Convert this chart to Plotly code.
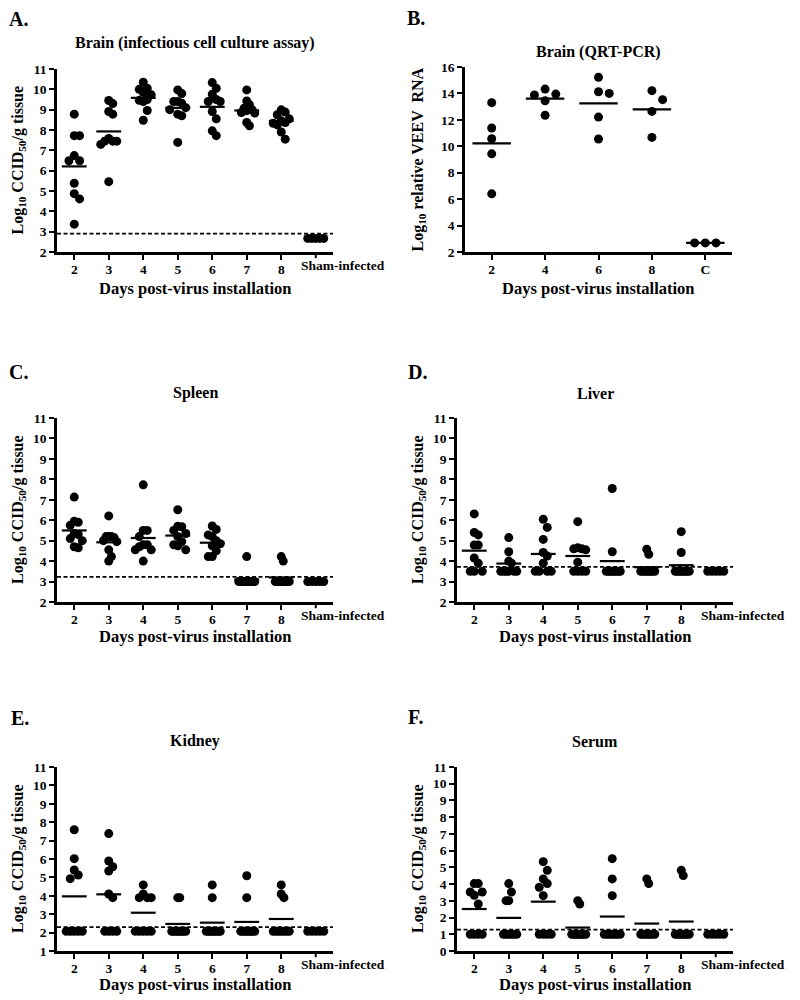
import plotly.graph_objects as go

# ---------------- data ----------------
day_labels = ["2", "3", "4", "5", "6", "7", "8", "Sham-infected"]
pcr_labels = ["2", "4", "6", "8", "C"]

brain_cc = [
    [8.78, 7.72, 7.72, 6.74, 6.49, 6.49, 5.38, 4.87, 4.61, 3.37],
    [9.45, 9.30, 8.91, 8.78, 7.58, 7.45, 7.45, 7.45, 7.29, 5.46],
    [10.35, 10.05, 10.0, 9.85, 9.73, 9.5, 9.46, 9.40, 8.96, 8.48],
    [9.97, 9.79, 9.40, 9.40, 9.32, 9.10, 9.0, 8.78, 8.70, 7.39],
    [10.33, 10.05, 9.76, 9.5, 9.4, 9.4, 8.91, 8.55, 7.96, 7.72],
    [9.97, 9.43, 9.25, 9.07, 9.0, 8.95, 8.86, 8.83, 8.37, 8.21],
    [8.99, 8.88, 8.75, 8.55, 8.45, 8.37, 8.33, 8.25, 7.90, 7.55],
    [2.67, 2.67, 2.67, 2.67, 2.67],
]
brain_cc_means = [6.21, 7.93, 9.58, 9.09, 9.14, 8.96, 8.45, 2.67]
brain_cc_limit = 2.9

brain_pcr = [
    [13.30, 11.38, 10.57, 9.43, 6.40],
    [14.33, 13.95, 13.88, 13.45, 12.34],
    [15.22, 14.13, 14.0, 12.21, 10.55],
    [14.21, 13.53, 12.64, 10.67],
    [2.69, 2.69, 2.69],
]
brain_pcr_means = [10.22, 13.60, 13.25, 12.79, 2.69]

spleen = [
    [7.13, 5.95, 5.9, 5.75, 5.35, 5.3, 5.1, 5.0, 4.7, 4.65],
    [6.21, 5.2, 5.2, 5.2, 5.15, 5.0, 4.95, 4.55, 4.22, 4.0],
    [7.73, 5.5, 5.5, 5.2, 4.8, 4.8, 4.7, 4.55, 4.55, 4.0],
    [6.51, 5.7, 5.68, 5.5, 5.35, 5.2, 4.95, 4.8, 4.75, 4.55],
    [5.72, 5.55, 5.28, 5.2, 5.0, 4.85, 4.75, 4.5, 4.22, 4.22],
    [4.22, 3.0, 3.0, 3.0, 3.0, 3.0, 3.0, 3.0, 3.0, 3.0],
    [4.22, 4.0, 3.0, 3.0, 3.0, 3.0, 3.0, 3.0, 3.0, 3.0],
    [3.0, 3.0, 3.0, 3.0, 3.0],
]
spleen_means = [5.50, 4.92, 5.13, 5.25, 4.90, 3.10, 3.20, 3.0]
spleen_limit = 3.23

liver = [
    [6.31, 5.4, 5.28, 4.79, 4.79, 4.15, 3.9, 3.5, 3.5, 3.5],
    [5.15, 4.46, 4.0, 3.9, 3.5, 3.5, 3.5, 3.5, 3.5, 3.5],
    [6.05, 5.65, 5.06, 4.42, 4.25, 3.9, 3.5, 3.5, 3.5, 3.5],
    [5.93, 4.65, 4.6, 4.6, 4.55, 3.95, 3.5, 3.5, 3.5, 3.5],
    [7.55, 4.46, 3.5, 3.5, 3.5, 3.5, 3.5, 3.5, 3.5, 3.5],
    [4.58, 4.33, 3.5, 3.5, 3.5, 3.5, 3.5, 3.5, 3.5, 3.5],
    [5.44, 4.42, 3.5, 3.5, 3.5, 3.5, 3.5, 3.5, 3.5, 3.5],
    [3.5, 3.5, 3.5, 3.5, 3.5],
]
liver_means = [4.51, 3.88, 4.35, 4.25, 4.0, 3.70, 3.80, 3.5]
liver_limit = 3.72

kidney = [
    [7.59, 6.02, 5.40, 5.13, 4.93, 2.07, 2.07, 2.07, 2.07, 2.07],
    [7.38, 5.89, 5.58, 5.35, 4.1, 3.9, 2.07, 2.07, 2.07, 2.07],
    [4.59, 4.1, 3.9, 3.9, 3.9, 2.07, 2.07, 2.07, 2.07, 2.07],
    [3.9, 3.9, 2.07, 2.07, 2.07, 2.07, 2.07, 2.07, 2.07, 2.07],
    [4.59, 3.9, 2.07, 2.07, 2.07, 2.07, 2.07, 2.07, 2.07, 2.07],
    [5.09, 3.9, 2.07, 2.07, 2.07, 2.07, 2.07, 2.07, 2.07, 2.07],
    [4.59, 4.1, 3.9, 2.07, 2.07, 2.07, 2.07, 2.07, 2.07, 2.07],
    [2.07, 2.07, 2.07, 2.07, 2.07],
]
kidney_means = [3.97, 4.08, 3.08, 2.47, 2.54, 2.58, 2.74, 2.07]
kidney_limit = 2.30

serum = [
    [4.03, 4.03, 3.53, 3.53, 3.33, 2.81, 1.0, 1.0, 1.0, 1.0],
    [4.03, 3.53, 3.01, 3.01, 1.0, 1.0, 1.0, 1.0, 1.0, 1.0],
    [5.34, 4.82, 4.31, 4.03, 3.81, 3.31, 1.0, 1.0, 1.0, 1.0],
    [3.01, 2.81, 1.0, 1.0, 1.0, 1.0, 1.0, 1.0, 1.0, 1.0],
    [5.52, 4.31, 3.31, 1.0, 1.0, 1.0, 1.0, 1.0, 1.0, 1.0],
    [4.31, 4.03, 1.0, 1.0, 1.0, 1.0, 1.0, 1.0, 1.0, 1.0],
    [4.82, 4.51, 1.0, 1.0, 1.0, 1.0, 1.0, 1.0, 1.0, 1.0],
    [1.0, 1.0, 1.0, 1.0, 1.0],
]
serum_means = [2.51, 1.98, 2.95, 1.40, 2.06, 1.64, 1.76, 1.0]
serum_limit = 1.28

# ---------------- styling / layout ----------------
W, H = 800, 1000
FONT = "Liberation Serif"
CCID_TITLE = "Log<sub>10</sub> CCID<sub>50</sub>/g tissue"
XTITLE = "Days post-virus installation"
TICK_SIZE = 13.5

panels = [
    dict(letter="A.", title="Brain (infectious cell culture assay)", labels=day_labels,
         groups=brain_cc, means=brain_cc_means, limit=brain_cc_limit, yrange=(2, 11), dtick=1,
         ytitle=CCID_TITLE, box=(57, 333, 69, 252), letter_pos=(7, 19), title_y=43,
         xtitle_y=288, ytitle_x=18, step=5.33, cap=8),
    dict(letter="B.", title="Brain (QRT-PCR)", labels=pcr_labels,
         groups=brain_pcr, means=brain_pcr_means, limit=None, yrange=(2, 16), dtick=2,
         ytitle="Log<sub>10</sub> relative VEEV  RNA", box=(465, 732, 67, 252), letter_pos=(405, 18),
         title_y=52, xtitle_y=288, ytitle_x=418, step=10.7, cap=14),
    dict(letter="C.", title="Spleen", labels=day_labels,
         groups=spleen, means=spleen_means, limit=spleen_limit, yrange=(2, 11), dtick=1,
         ytitle=CCID_TITLE, box=(57, 333, 418, 602), letter_pos=(7, 372), title_y=393,
         xtitle_y=636, ytitle_x=18, step=5.33, cap=8),
    dict(letter="D.", title="Liver", labels=day_labels,
         groups=liver, means=liver_means, limit=liver_limit, yrange=(2, 11), dtick=1,
         ytitle=CCID_TITLE, box=(457, 733, 418, 602), letter_pos=(406, 372), title_y=393,
         xtitle_y=636, ytitle_x=418, step=5.33, cap=8),
    dict(letter="E.", title="Kidney", labels=day_labels,
         groups=kidney, means=kidney_means, limit=kidney_limit, yrange=(1, 11), dtick=1,
         ytitle=CCID_TITLE, box=(57, 333, 767, 951), letter_pos=(9, 718), title_y=741,
         xtitle_y=984, ytitle_x=18, step=5.33, cap=8),
    dict(letter="F.", title="Serum", labels=day_labels,
         groups=serum, means=serum_means, limit=serum_limit, yrange=(0, 11), dtick=1,
         ytitle=CCID_TITLE, box=(457, 733, 767, 951), letter_pos=(406, 717), title_y=741,
         xtitle_y=984, ytitle_x=418, step=5.33, cap=8),
]


def swarm(values, px_y, step_px, diam_px, cap_px):
    """Column-based beeswarm: returns horizontal offsets in pixels."""
    order = sorted(range(len(values)), key=lambda i: -values[i])
    cand = [0]
    for j in range(1, 30):
        cand += [j, -j]
    placed = []
    cols = [0] * len(values)
    for i in order:
        y = values[i] * px_y
        for c in cand:
            if all(not (pc == c and abs(py - y) < diam_px) for pc, py in placed):
                break
        placed.append((c, y))
        cols[i] = c
    offs = [c * step_px for c in cols]
    m = max(abs(o) for o in offs) if offs else 0
    if m > cap_px:
        offs = [o * cap_px / m for o in offs]
    return offs


def px2x(px):
    return px / W


def px2y(py):
    return 1 - py / H


fig = go.Figure()
layout = dict(width=W, height=H, margin=dict(l=0, r=0, t=0, b=0, autoexpand=False),
              plot_bgcolor="white", paper_bgcolor="white", showlegend=False,
              font=dict(family=FONT, color="black"))
annotations = []
shapes = []
bold = dict(family=FONT, color="black", weight="bold")

for k, p in enumerate(panels, start=1):
    xa = "x" if k == 1 else f"x{k}"
    ya = "y" if k == 1 else f"y{k}"
    xkey = "xaxis" if k == 1 else f"xaxis{k}"
    ykey = "yaxis" if k == 1 else f"yaxis{k}"
    x0, x1, ytop, ybot = p["box"]
    n = len(p["labels"])
    ylo, yhi = p["yrange"]
    px_per_cat = (x1 - x0) / n
    px_per_y = (ybot - ytop) / (yhi - ylo)

    xs, ys = [], []
    for ci, vals in enumerate(p["groups"]):
        offs = swarm(vals, px_per_y, p["step"], 9, p["cap"])
        for v, o in zip(vals, offs):
            xs.append(ci + 1 + o / px_per_cat)
            ys.append(v)
    fig.add_trace(go.Scatter(x=xs, y=ys, mode="markers", xaxis=xa, yaxis=ya,
                             marker=dict(color="black", size=9, line=dict(width=0)),
                             cliponaxis=False, hoverinfo="skip"))

    lx, ly = [], []
    for ci, m in enumerate(p["means"]):
        hw = 0.30 if p["labels"][ci] == "Sham-infected" else 0.36
        lx += [ci + 1 - hw, ci + 1 + hw, None]
        ly += [m, m, None]
    fig.add_trace(go.Scatter(x=lx, y=ly, mode="lines", xaxis=xa, yaxis=ya,
                             line=dict(color="black", width=2.2), hoverinfo="skip",
                             cliponaxis=False))

    if p["limit"] is not None:
        fig.add_trace(go.Scatter(x=[0.5, n + 0.5], y=[p["limit"], p["limit"]], mode="lines",
                                 xaxis=xa, yaxis=ya, hoverinfo="skip",
                                 line=dict(color="black", width=1.8, dash="4px,2.5px")))

    show_vals = [i + 1 for i, t in enumerate(p["labels"]) if t != "Sham-infected"]
    show_text = [t for t in p["labels"] if t != "Sham-infected"]
    layout[xkey] = dict(domain=[px2x(x0), px2x(x1)], range=[0.5, n + 0.5], anchor=ya,
                        tickvals=show_vals, ticktext=show_text,
                        showline=True, linewidth=2.5, linecolor="black", mirror=False,
                        ticks="outside", ticklen=5, tickwidth=2, tickcolor="black",
                        ticklabelstandoff=-2,
                        showgrid=False, zeroline=False, tickfont=dict(size=TICK_SIZE, **bold))
    layout[ykey] = dict(domain=[px2y(ybot), px2y(ytop)], range=[ylo, yhi], anchor=xa,
                        tick0=ylo, dtick=p["dtick"],
                        showline=True, linewidth=2.5, linecolor="black",
                        ticks="outside", ticklen=5, tickwidth=2, tickcolor="black",
                        showgrid=False, zeroline=False, tickfont=dict(size=TICK_SIZE, **bold))

    if "Sham-infected" in p["labels"]:
        # tick mark for the sham group (its label is drawn offset, as in the original)
        shapes.append(dict(type="line", xref=xa, yref="paper", x0=n, x1=n,
                           y0=px2y(ybot), y1=px2y(ybot + 6.2),
                           line=dict(color="black", width=2)))
        annotations.append(dict(text="Sham-infected", xref=xa, x=n, xanchor="left", xshift=-17,
                                yref="paper", y=px2y(ybot + 4), yanchor="top",
                                showarrow=False, font=dict(size=TICK_SIZE, **bold)))
    lxp, lyp = p["letter_pos"]
    annotations.append(dict(text=p["letter"], xref="paper", yref="paper", x=px2x(lxp),
                            y=px2y(lyp), xanchor="left", yanchor="middle", showarrow=False,
                            font=dict(size=20, **bold)))
    annotations.append(dict(text=p["title"], xref="paper", yref="paper",
                            x=px2x((x0 + x1) / 2), y=px2y(p["title_y"]), xanchor="center",
                            yanchor="middle", showarrow=False, font=dict(size=16, **bold)))
    annotations.append(dict(text=XTITLE, xref="paper", yref="paper",
                            x=px2x((x0 + x1) / 2), y=px2y(p["xtitle_y"]), xanchor="center",
                            yanchor="middle", showarrow=False, font=dict(size=16.5, **bold)))
    annotations.append(dict(text=p["ytitle"], xref="paper", yref="paper",
                            x=px2x(p["ytitle_x"]), y=px2y((ytop + ybot) / 2), xanchor="center",
                            yanchor="middle", textangle=-90, showarrow=False,
                            font=dict(size=16, **bold)))

layout["annotations"] = annotations
layout["shapes"] = shapes
fig.update_layout(**layout)
fig.write_html("out.html", config={"displayModeBar": False},
               post_script="document.body.style.margin='0';document.body.style.overflow='hidden';")
